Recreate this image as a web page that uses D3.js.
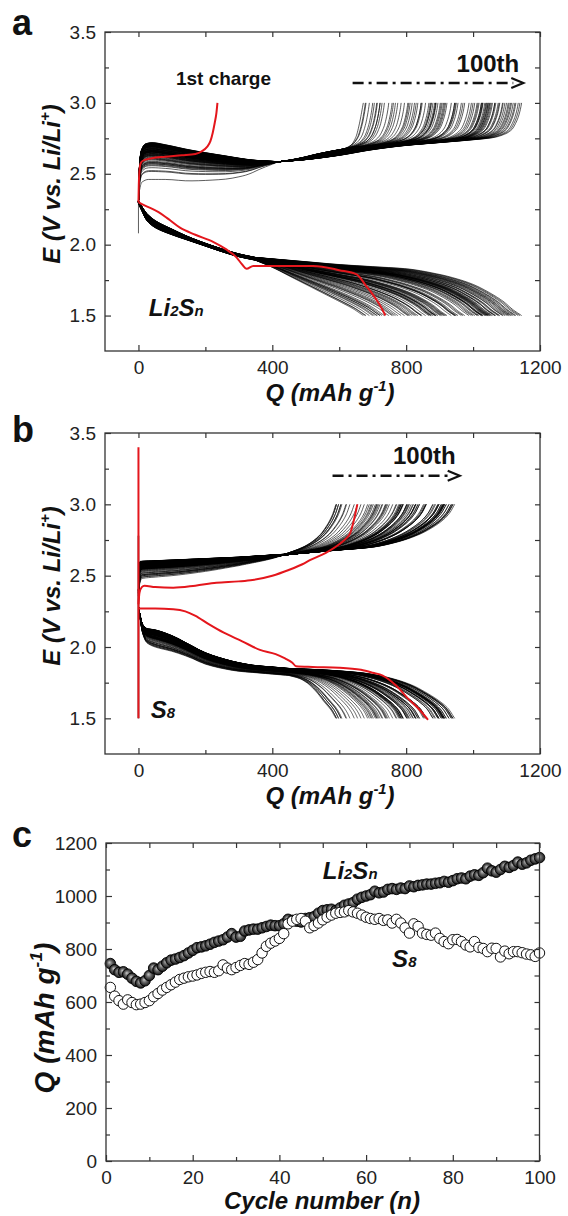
<!DOCTYPE html>
<html><head><meta charset="utf-8">
<script src="https://cdn.jsdelivr.net/npm/d3@7"></script>
<style>
body{margin:0;background:#fff}
svg{display:block}
text{font-family:"Liberation Sans",Arial,Helvetica,sans-serif}
</style></head>
<body><svg id="chart" width="568" height="1216"></svg>
<script>
// ---------------- DATA ----------------
const cycleNumbers = d3.range(1, 101);
// panel c : capacity vs cycle (mAh g-1)
const capLi2Sn = [
 745, 722, 712, 714, 705, 690, 678, 672, 680, 700,
 728, 722, 735, 748, 758, 762, 768, 775, 785, 795,
 805, 808, 812, 818, 825, 830, 835, 845, 858, 845,
 848, 868, 872, 875, 875, 880, 885, 890, 888, 888,
 895, 912, 908, 905, 902, 915, 918, 922, 935, 945,
 948, 950, 945, 955, 965, 970, 975, 988, 995, 1000,
 1005, 1018, 1012, 1015, 1025, 1028, 1025, 1030, 1028, 1038,
 1035, 1040, 1042, 1045, 1045, 1048, 1050, 1055, 1052, 1058,
 1065, 1068, 1065, 1075, 1080, 1078, 1088, 1105, 1095, 1090,
 1100, 1112, 1108, 1115, 1128, 1120, 1125, 1135, 1140, 1145];
const capS8 = [
 655, 622, 605, 592, 608, 598, 590, 592, 598, 605,
 620, 632, 645, 655, 665, 675, 685, 690, 695, 698,
 702, 708, 712, 715, 712, 718, 740, 728, 722, 730,
 738, 745, 742, 750, 760, 785, 810, 822, 830, 840,
 858, 895, 905, 912, 915, 905, 880, 888, 898, 910,
 920, 928, 935, 938, 940, 945, 940, 935, 928, 920,
 915, 912, 915, 908, 910, 898, 912, 898, 880, 860,
 895, 885, 860, 855, 852, 860, 840, 828, 820, 835,
 836, 828, 815, 808, 828, 806, 802, 790, 803, 802,
 770, 792, 782, 790, 790, 786, 781, 778, 772, 785];

// panel a (Li2Sn) voltage profiles [Q, E]
const aRedCharge = [[0,2.30],[1,2.42],[3,2.52],[6,2.57],[12,2.59],[40,2.61],[80,2.62],[130,2.63],[170,2.64],[190,2.66],[205,2.69],[215,2.73],[222,2.79],[228,2.86],[233,2.93],[236,3.0]];
const aRedDischarge = [[0,2.30],[15,2.28],[35,2.26],[60,2.23],[90,2.18],[124,2.12],[170,2.07],[223,2.02],[260,1.97],[293,1.91],[310,1.86],[323,1.83],[343,1.85],[420,1.85],[522,1.85],[600,1.82],[652,1.79],[680,1.71],[700,1.65],[720,1.58],[738,1.50]];
const aChgBodyLow  = [[0,2.30],[3,2.38],[10,2.44],[30,2.46],[80,2.46],[150,2.45],[250,2.46],[320,2.49],[370,2.54],[420,2.585]];
const aChgBodyHigh = [[0,2.30],[3,2.55],[8,2.66],[20,2.71],[40,2.72],[80,2.705],[150,2.67],[250,2.63],[350,2.595],[420,2.585]];
const aChgTailLow  = [[420,2.585],[500,2.61],[560,2.63],[610,2.66],[635,2.70],[650,2.76],[660,2.85],[672,3.0]];
const aChgTailHigh = [[420,2.585],[500,2.60],[600,2.63],[700,2.67],[800,2.70],[900,2.72],[1000,2.74],[1060,2.755],[1095,2.78],[1115,2.81],[1130,2.87],[1140,2.94],[1145,3.0]];
const aDisBodyLow  = [[0,2.29],[10,2.24],[25,2.17],[50,2.12],[100,2.07],[150,2.03],[200,1.99],[250,1.95],[300,1.915],[350,1.89]];
const aDisBodyHigh = [[0,2.31],[10,2.27],[25,2.22],[50,2.17],[100,2.11],[150,2.055],[200,2.01],[250,1.97],[300,1.935],[350,1.91]];
const aDisTailLow  = [[350,1.89],[400,1.84],[450,1.78],[500,1.72],[550,1.66],[600,1.60],[640,1.55],[672,1.50]];
const aDisTailHigh = [[350,1.91],[400,1.90],[500,1.88],[600,1.86],[700,1.845],[800,1.83],[900,1.79],[950,1.76],[1000,1.72],[1050,1.66],[1090,1.60],[1120,1.54],[1145,1.50]];

// panel b (S8) voltage profiles [Q, E]
const bRedOCV = [[0,3.40],[0,1.50]];
const bRedCharge = [[0,2.30],[3,2.38],[10,2.42],[18,2.43],[50,2.42],[104,2.415],[170,2.43],[233,2.45],[300,2.46],[341,2.47],[400,2.50],[449,2.54],[490,2.58],[514,2.61],[560,2.66],[600,2.72],[620,2.76],[633,2.80],[645,2.90],[654,3.0]];
const bRedDischarge = [[0,2.27],[50,2.27],[104,2.265],[140,2.25],[169,2.22],[210,2.16],[255,2.10],[310,2.04],[363,1.98],[410,1.95],[438,1.92],[460,1.89],[471,1.865],[520,1.86],[600,1.855],[665,1.84],[700,1.82],[730,1.80],[770,1.73],[805,1.64],[840,1.56],[865,1.49]];
const bChgBodyLow  = [[0,2.30],[2,2.42],[10,2.48],[50,2.49],[100,2.50],[200,2.53],[300,2.57]];
const bChgBodyHigh = [[0,2.40],[2,2.58],[5,2.60],[50,2.605],[100,2.61],[200,2.62],[300,2.63]];
const bChgTailLow  = [[300,2.57],[400,2.62],[450,2.66],[500,2.71],[540,2.78],[565,2.86],[580,2.93],[590,3.0]];
const bChgTailHigh = [[300,2.63],[400,2.645],[500,2.66],[600,2.68],[700,2.70],[780,2.74],[840,2.79],[880,2.84],[910,2.89],[930,2.94],[945,3.0]];
const bDisBodyLow  = [[0,2.28],[5,2.20],[12,2.10],[25,2.03],[50,2.00],[100,1.97],[150,1.93],[200,1.88],[250,1.85],[300,1.83],[350,1.82],[400,1.81],[450,1.80]];
const bDisBodyHigh = [[0,2.28],[5,2.22],[12,2.16],[25,2.13],[50,2.12],[100,2.08],[150,2.02],[200,1.96],[250,1.92],[300,1.89],[350,1.87],[400,1.86],[450,1.85]];
const bDisTailLow  = [[450,1.80],[480,1.78],[503,1.75],[530,1.69],[557,1.61],[575,1.56],[590,1.50]];
const bDisTailHigh = [[450,1.85],[550,1.84],[665,1.82],[720,1.80],[772,1.77],[820,1.73],[860,1.68],[900,1.62],[925,1.57],[945,1.50]];

// tick labels
const voltTicks = [1.5, 2.0, 2.5, 3.0, 3.5];
const voltMinor = [1.75, 2.25, 2.75, 3.25];
const qTicks = [0, 400, 800, 1200];
const qMinor = [200, 600, 1000];
const cycTicks = [0, 20, 40, 60, 80, 100];
const cycMinor = [10, 30, 50, 70, 90];
const capTicks = [0, 200, 400, 600, 800, 1000, 1200];
const capMinor = [100, 300, 500, 700, 900, 1100];

// ---------------- HELPERS ----------------
function monoInterp(pts){
  const n = pts.length, xs = pts.map(p=>p[0]), ys = pts.map(p=>p[1]);
  const d = [], m = [];
  for (let i=0;i<n-1;i++) d[i] = (ys[i+1]-ys[i])/(xs[i+1]-xs[i]);
  m[0] = d[0]; m[n-1] = d[n-2];
  for (let i=1;i<n-1;i++) m[i] = (d[i-1]*d[i] <= 0) ? 0 : 2/(1/d[i-1]+1/d[i]);
  return function(q){
    if (q <= xs[0]) return ys[0];
    if (q >= xs[n-1]) return ys[n-1];
    let i = 1; while (q > xs[i]) i++;
    const h = xs[i]-xs[i-1], t = (q-xs[i-1])/h, t2=t*t, t3=t2*t;
    return (2*t3-3*t2+1)*ys[i-1] + (t3-2*t2+t)*h*m[i-1] + (-2*t3+3*t2)*ys[i] + (t3-t2)*h*m[i];
  };
}
function makeFamily(spec){
  const bl = monoInterp(spec.bodyLow), bh = monoInterp(spec.bodyHigh);
  const Qs = spec.split;
  const tl = monoInterp(spec.tailLow.map(([q,e])=>[(q-Qs)/(spec.capLow-Qs), e]));
  const th = monoInterp(spec.tailHigh.map(([q,e])=>[(q-Qs)/(spec.capHigh-Qs), e]));
  const bodyGrid = [0,0.5,1,2,3,4,6,8,10,13,16,20,25,30,40,50,60,70,80].concat(d3.range(100, Qs, 20));
  const vGrid = d3.range(0, 0.9, 0.02).concat(d3.range(0.9, 1.0, 0.005)).concat([1]);
  return function(C){
    let w = (C-spec.capLow)/(spec.capHigh-spec.capLow);
    w = Math.pow(Math.max(0, Math.min(1, w)), spec.gamma);
    const out = [];
    bodyGrid.forEach(q => out.push([q, (1-w)*bl(q) + w*bh(q)]));
    vGrid.forEach(v => out.push([Qs + v*(C-Qs), (1-w)*tl(v) + w*th(v)]));
    return out;
  };
}

const svg = d3.select('#chart');
const RED = '#e4161c';
const FONT = '"Liberation Sans",Arial,Helvetica,sans-serif';

function styleAxis(sel, fs){
  sel.select('.domain').remove();
  sel.selectAll('.tick line').attr('stroke','#333').attr('stroke-width',1.2);
  sel.selectAll('.tick text').attr('font-size',fs).attr('fill','#222').attr('font-family',FONT);
}
function drawAxes(g, x, y, xMaj, xMin, yMaj, yMin, fx, fy){
  const [xa, xb] = x.range(), [ya, yb] = y.range(); // ya bottom, yb top
  const fs = 19;
  g.append('g').attr('transform',`translate(0,${ya})`).call(d3.axisBottom(x).tickValues(xMin).tickSize(-4).tickFormat('')).call(s=>styleAxis(s,fs));
  g.append('g').attr('transform',`translate(0,${ya})`).call(d3.axisBottom(x).tickValues(xMaj).tickSize(-6).tickPadding(10).tickFormat(fx)).call(s=>styleAxis(s,fs));
  g.append('g').attr('transform',`translate(0,${yb})`).call(d3.axisTop(x).tickValues(xMin.concat(xMaj)).tickSize(-5).tickFormat('')).call(s=>styleAxis(s,fs));
  g.append('g').attr('transform',`translate(${xa},0)`).call(d3.axisLeft(y).tickValues(yMin).tickSize(-4).tickFormat('')).call(s=>styleAxis(s,fs));
  g.append('g').attr('transform',`translate(${xa},0)`).call(d3.axisLeft(y).tickValues(yMaj).tickSize(-6).tickPadding(9).tickFormat(fy)).call(s=>styleAxis(s,fs));
  g.append('g').attr('transform',`translate(${xb},0)`).call(d3.axisRight(y).tickValues(yMin.concat(yMaj)).tickSize(-5).tickFormat('')).call(s=>styleAxis(s,fs));
  g.append('rect').attr('x',xa).attr('y',yb).attr('width',xb-xa).attr('height',ya-yb)
    .attr('fill','none').attr('stroke','#333').attr('stroke-width',1.3);
}
function yTitleE(g, x, cy){
  const t = g.append('text').attr('transform',`translate(${x},${cy}) rotate(-90)`)
    .attr('text-anchor','middle').attr('font-size',24).attr('font-weight','bold').attr('font-style','italic').attr('fill','#111');
  t.append('tspan').text('E (V vs. Li/Li');
  t.append('tspan').attr('font-size',15).attr('dy',-10).text('+');
  t.append('tspan').attr('dy',10).text(')');
}
function qTitle(g, x, y, rotate, fs){
  const t = g.append('text').attr('transform', rotate ? `translate(${x},${y}) rotate(-90)` : `translate(${x},${y})`)
    .attr('text-anchor','middle').attr('font-size',fs).attr('font-weight','bold').attr('font-style','italic').attr('fill','#111');
  t.append('tspan').text('Q (mAh g');
  t.append('tspan').attr('font-size',fs*0.62).attr('dy',-fs*0.42).text('-1');
  t.append('tspan').attr('dy',fs*0.42).text(')');
}
function panelLetter(txt, y){
  svg.append('text').attr('x',12).attr('y',y).attr('font-size',36).attr('font-weight','bold').attr('fill','#111').text(txt);
}
function hundredth(g, x, y, qStart, qEnd, eArrow, eText){
  const ya = y(eArrow);
  g.append('line').attr('x1',x(qStart)).attr('x2',x(qEnd)-10).attr('y1',ya).attr('y2',ya)
    .attr('stroke','#111').attr('stroke-width',2.6).attr('stroke-dasharray','11,5,3,5');
  const xe = x(qEnd);
  g.append('path').attr('d',`M${xe-12},${ya-5} L${xe},${ya} L${xe-12},${ya+5}`).attr('fill','none').attr('stroke','#111').attr('stroke-width',2.2);
  g.append('text').attr('x',xe-4).attr('y',y(eText)).attr('text-anchor','end').attr('font-size',24).attr('font-weight','bold').attr('fill','#111').text('100th');
}
function chemLabel(g, x, y, parts, fs){
  const t = g.append('text').attr('x',x).attr('y',y).attr('font-size',fs).attr('font-weight','bold').attr('font-style','italic').attr('fill','#111');
  parts.forEach(([s, small]) => t.append('tspan').attr('font-size', small ? fs*0.62 : fs).text(s));
}

// ---------------- PANEL A ----------------
const xa = d3.scaleLinear().domain([-100,1200]).range([105,540]);
const ya = d3.scaleLinear().domain([1.25,3.5]).range([351,32]);
const lineA = d3.line().x(d=>xa(d[0])).y(d=>ya(d[1])).curve(d3.curveMonotoneX);
const gA = svg.append('g');
const aCharge = makeFamily({bodyLow:aChgBodyLow, bodyHigh:aChgBodyHigh, tailLow:aChgTailLow, tailHigh:aChgTailHigh, split:420, capLow:672, capHigh:1145, gamma:0.35});
const aDis = makeFamily({bodyLow:aDisBodyLow, bodyHigh:aDisBodyHigh, tailLow:aDisTailLow, tailHigh:aDisTailHigh, split:350, capLow:672, capHigh:1145, gamma:1});
const blackA = gA.append('g').attr('fill','none').attr('stroke','#000').attr('stroke-width',0.75).attr('stroke-opacity',0.85);
blackA.append('path').attr('d', d3.line().x(d=>xa(d[0])).y(d=>ya(d[1]))([[0,2.08],[0,2.30]]));
cycleNumbers.slice(1).forEach(n => {
  const C = capLi2Sn[n-1];
  blackA.append('path').attr('d', lineA(aCharge(C)));
  blackA.append('path').attr('d', lineA(aDis(C)));
});
gA.append('path').attr('d', lineA(aRedCharge)).attr('fill','none').attr('stroke',RED).attr('stroke-width',2);
gA.append('path').attr('d', lineA(aRedDischarge)).attr('fill','none').attr('stroke',RED).attr('stroke-width',2);
drawAxes(gA, xa, ya, qTicks, qMinor, voltTicks, voltMinor, d3.format('d'), d3.format('.1f'));
yTitleE(gA, 60, 184);
qTitle(gA, 330, 401, false, 24);
gA.append('text').attr('x',xa(112)).attr('y',ya(3.125)).attr('font-size',19).attr('font-weight','bold').attr('fill','#111').text('1st charge');
hundredth(gA, xa, ya, 640, 1150, 3.14, 3.22);
chemLabel(gA, xa(31), ya(1.5), [['Li',false],['2',true],['S',false],['n',true]], 24);
panelLetter('a', 35);

// ---------------- PANEL B ----------------
const xb = d3.scaleLinear().domain([-100,1200]).range([105,540]);
const yb = d3.scaleLinear().domain([1.25,3.5]).range([754,433]);
const lineB = d3.line().x(d=>xb(d[0])).y(d=>yb(d[1])).curve(d3.curveMonotoneX);
const gB = svg.append('g');
const bCharge = makeFamily({bodyLow:bChgBodyLow, bodyHigh:bChgBodyHigh, tailLow:bChgTailLow, tailHigh:bChgTailHigh, split:300, capLow:590, capHigh:945, gamma:0.5});
const bDis = makeFamily({bodyLow:bDisBodyLow, bodyHigh:bDisBodyHigh, tailLow:bDisTailLow, tailHigh:bDisTailHigh, split:450, capLow:590, capHigh:945, gamma:0.6});
const blackB = gB.append('g').attr('fill','none').attr('stroke','#000').attr('stroke-width',0.75).attr('stroke-opacity',0.85);
blackB.append('path').attr('d', d3.line().x(d=>xb(d[0])).y(d=>yb(d[1]))([[0,1.5],[0,2.78]])).attr('stroke-width',1.6);
cycleNumbers.slice(1).forEach(n => {
  const C = capS8[n-1];
  blackB.append('path').attr('d', lineB(bCharge(C)));
  blackB.append('path').attr('d', lineB(bDis(C)));
});
gB.append('path').attr('d', d3.line().x(d=>xb(d[0])).y(d=>yb(d[1]))(bRedOCV)).attr('fill','none').attr('stroke',RED).attr('stroke-width',2);
gB.append('path').attr('d', lineB(bRedCharge)).attr('fill','none').attr('stroke',RED).attr('stroke-width',2);
gB.append('path').attr('d', lineB(bRedDischarge)).attr('fill','none').attr('stroke',RED).attr('stroke-width',2);
drawAxes(gB, xb, yb, qTicks, qMinor, voltTicks, voltMinor, d3.format('d'), d3.format('.1f'));
yTitleE(gB, 60, 586);
qTitle(gB, 330, 804, false, 24);
hundredth(gB, xb, yb, 580, 960, 3.20, 3.28);
chemLabel(gB, xb(37), yb(1.5), [['S',false],['8',true]], 24);
panelLetter('b', 442);

// ---------------- PANEL C ----------------
const xc = d3.scaleLinear().domain([0,100]).range([106,539.5]);
const yc = d3.scaleLinear().domain([0,1200]).range([1161,843]);
const gC = svg.append('g');
const defs = svg.append('defs');
const grad = defs.append('radialGradient').attr('id','ball').attr('cx','50%').attr('cy','50%').attr('r','50%').attr('fx','40%').attr('fy','38%');
grad.append('stop').attr('offset','0%').attr('stop-color','#c8c8c8');
grad.append('stop').attr('offset','45%').attr('stop-color','#6a6a6a');
grad.append('stop').attr('offset','100%').attr('stop-color','#151515');
gC.append('g').selectAll('circle').data(cycleNumbers).join('circle')
  .attr('cx', n=>xc(n)).attr('cy', n=>yc(capLi2Sn[n-1])).attr('r',5.3)
  .attr('fill','url(#ball)').attr('stroke','#000').attr('stroke-width',0.9);
gC.append('g').selectAll('circle').data(cycleNumbers).join('circle')
  .attr('cx', n=>xc(n)).attr('cy', n=>yc(capS8[n-1])).attr('r',5.2)
  .attr('fill','#fff').attr('stroke','#111').attr('stroke-width',1);
drawAxes(gC, xc, yc, cycTicks, cycMinor, capTicks, capMinor, d3.format('d'), d3.format('d'));
qTitle(gC, 54, 1018, true, 28);
gC.append('text').attr('x',322).attr('y',1209).attr('text-anchor','middle').attr('font-size',24).attr('font-weight','bold').attr('font-style','italic').attr('fill','#111').text('Cycle number (n)');
chemLabel(gC, xc(50), yc(1064), [['Li',false],['2',true],['S',false],['n',true]], 24);
chemLabel(gC, xc(66), yc(732), [['S',false],['8',true]], 24);
panelLetter('c', 847);
</script></body></html>
